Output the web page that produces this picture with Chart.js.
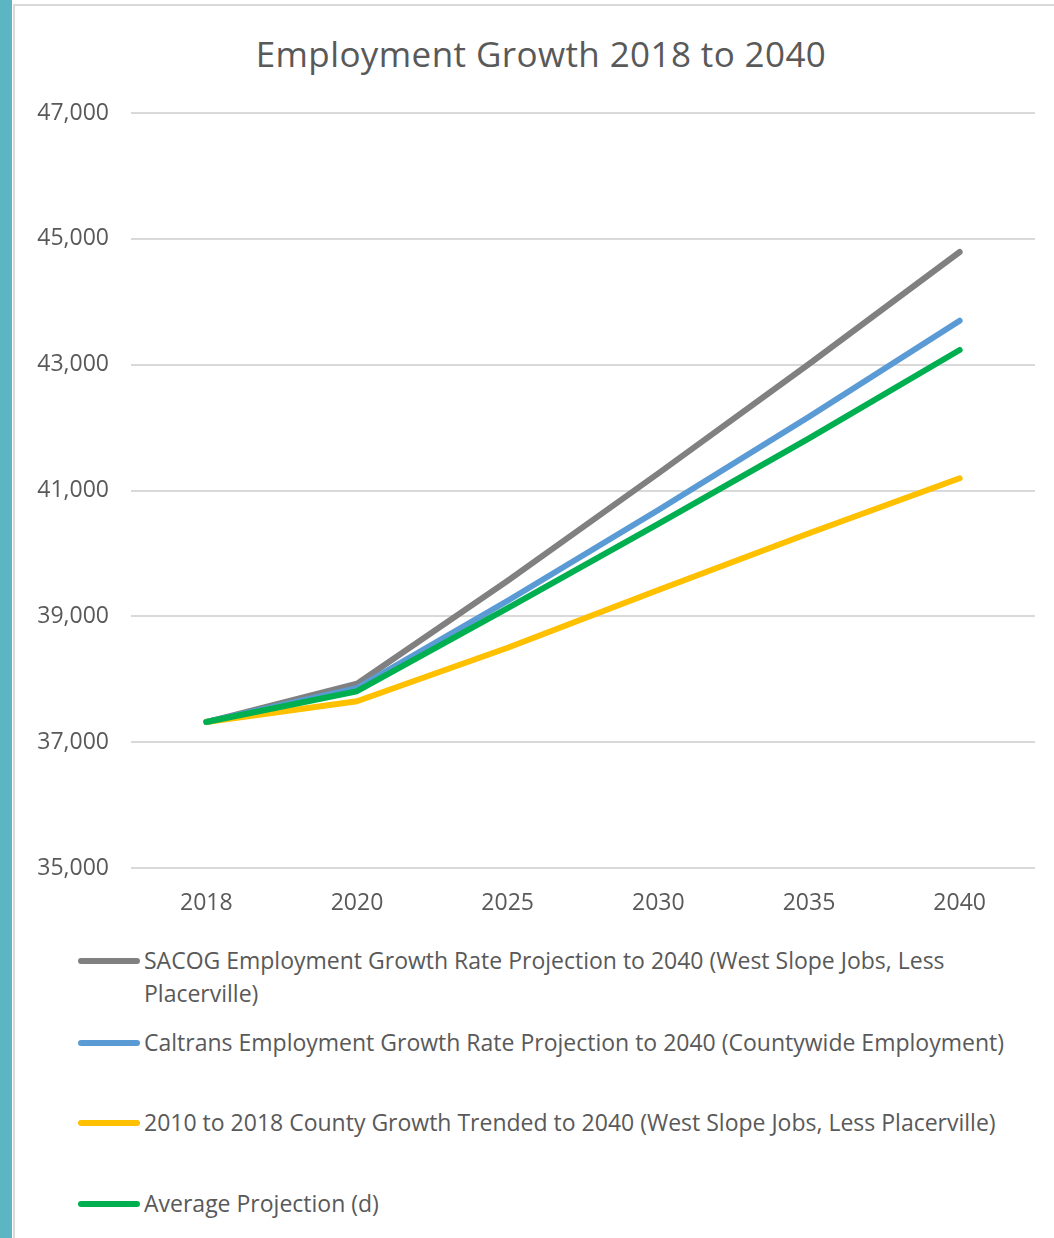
<!DOCTYPE html>
<html>
<head>
<meta charset="utf-8">
<script src="https://cdn.jsdelivr.net/npm/chart.js@4.4.0/dist/chart.umd.min.js"></script>
<style>
  html, body { margin: 0; padding: 0; background: #fff; }
  body { width: 1054px; height: 1238px; position: relative; overflow: hidden; font-family: 'Open Sans', Lato, sans-serif; color: #595959; }
  #strip { position: absolute; left: 0; top: 0; width: 12px; height: 1238px; background: #5bb5c2; }
  #frame { position: absolute; left: 13px; top: 4px; width: 1060px; height: 1260px; border: 2px solid #d9d9d9; box-sizing: border-box; }
  #title { position: absolute; left: 0; width: 1082px; top: 31px; text-align: center; font-size: 35px; letter-spacing: 0.4px; line-height: 46px; color: #595959; }
  #wrap { position: absolute; left: 0; top: 0; width: 1054px; height: 930px; }
  #legend { position: absolute; left: 0; top: 0; }
  .item { position: absolute; left: 78px; width: 960px; }
  .swatch { position: absolute; left: 0; width: 62px; height: 6px; border-radius: 3px; }
  .txt { position: absolute; left: 66px; width: 885px; font-size: 23px; line-height: 33px; }
</style>
</head>
<body>
<div id="strip"></div>
<div id="frame"></div>
<div id="title">Employment Growth 2018 to 2040</div>
<div id="wrap"><canvas id="chart" width="1054" height="930"></canvas></div>
<div id="legend"></div>
<script>
// --- data ---
const years = ['2018', '2020', '2025', '2030', '2035', '2040'];
const sacog    = [37320, 37930, 39566, 41273, 43011, 44791];
const caltrans = [37320, 37860, 39248, 40690, 42173, 43699];
const trend    = [37320, 37650, 38501, 39419, 40320, 41194];
const average  = [37320, 37810, 39132, 40468, 41830, 43233];

const seriesNames = [
    'SACOG Employment Growth Rate Projection to 2040 (West Slope Jobs, Less Placerville)',
    'Caltrans Employment Growth Rate Projection to 2040 (Countywide Employment)',
    '2010 to 2018 County Growth Trended to 2040 (West Slope Jobs, Less Placerville)',
    'Average Projection (d)'
];
const seriesColors = ['#808080', '#5b9bd5', '#ffc000', '#00b050'];
const seriesData = [sacog, caltrans, trend, average];
const yTicks = [35000, 37000, 39000, 41000, 43000, 45000, 47000];

const FONT = '"Open Sans", Lato, sans-serif';
Chart.defaults.font.family = FONT;
Chart.defaults.color = '#595959';

const ctx = document.getElementById('chart').getContext('2d');
new Chart(ctx, {
    type: 'line',
    data: {
        labels: years,
        datasets: seriesData.map((d, i) => ({
            label: seriesNames[i],
            data: d,
            borderColor: seriesColors[i],
            backgroundColor: seriesColors[i],
            borderWidth: 6,
            borderCapStyle: 'round',
            borderJoinStyle: 'round',
            pointRadius: 0,
            tension: 0,
            order: seriesData.length - 1 - i
        }))
    },
    options: {
        responsive: false,
        animation: false,
        layout: { padding: { top: 113, right: 19, left: 0, bottom: 0 } },
        plugins: { legend: { display: false }, title: { display: false }, tooltip: { enabled: false } },
        scales: {
            x: {
                offset: true,
                grid: { display: false },
                border: { display: false },
                ticks: { font: { size: 23 }, color: '#595959', padding: 14 },
                afterFit: s => { s.height = 62; }
            },
            y: {
                min: yTicks[0],
                max: yTicks[yTicks.length - 1],
                afterBuildTicks: s => { s.ticks = yTicks.map(v => ({ value: v })); },
                grid: { color: '#d9d9d9', lineWidth: 2, drawTicks: false },
                border: { display: false },
                ticks: {
                    font: { size: 23 }, color: '#595959', padding: 22,
                    callback: v => v.toLocaleString('en-US')
                },
                afterFit: s => { s.width = 131; }
            }
        }
    }
});

// legend built from the same series arrays
const legendTops = [961, 1043, 1123, 1204];
const legend = document.getElementById('legend');
seriesNames.forEach((name, i) => {
    const item = document.createElement('div');
    item.className = 'item';
    item.style.top = legendTops[i] + 'px';
    item.innerHTML = `<div class="swatch" style="top:-3px;background:${seriesColors[i]}"></div>
        <div class="txt" style="top:-17px">${name}</div>`;
    legend.appendChild(item);
});
</script>
</body>
</html>
